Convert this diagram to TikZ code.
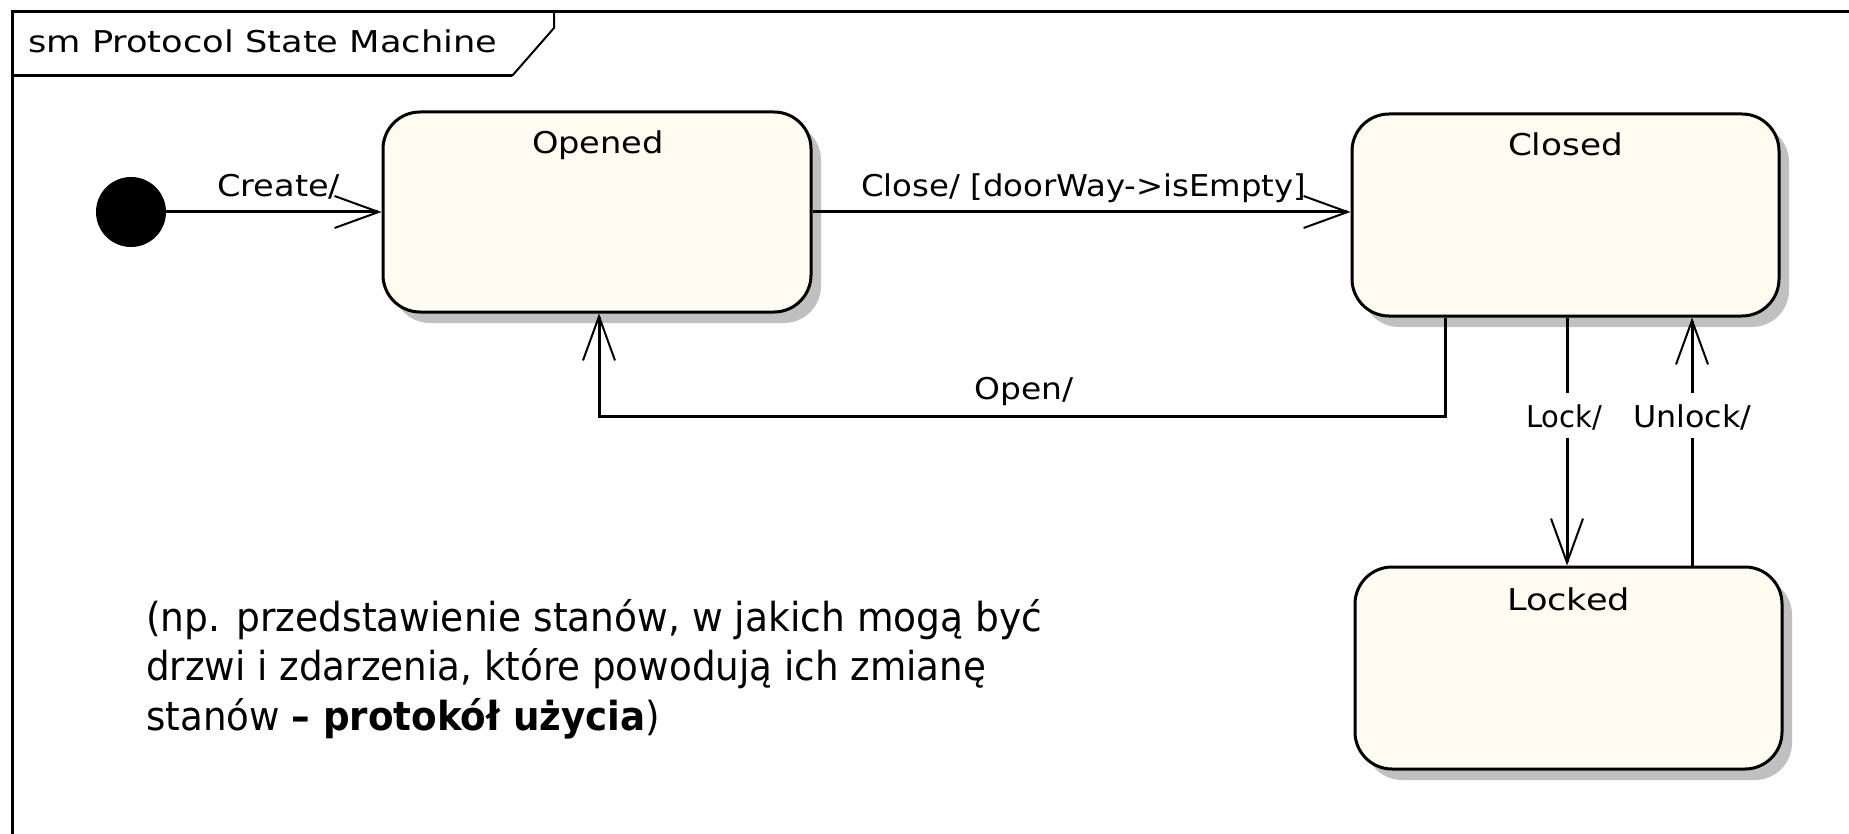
\documentclass[tikz,border=0pt]{standalone}
\usepackage{fontspec}
\usepackage{graphicx}
\setmainfont{DejaVu Sans}
\usetikzlibrary{arrows.meta,shadows}
\definecolor{statefill}{RGB}{255,251,240}
\definecolor{shadowgray}{RGB}{192,192,192}
\newcommand{\fitw}[2]{\resizebox{#1pt}{\height}{#2}}
\begin{document}
\begin{tikzpicture}[x=1pt,y=-1pt,
  lbl/.style={inner sep=0pt, anchor=base west, font=\fontsize{30}{36}\selectfont},
  notetext/.style={inner sep=0pt, anchor=base west, font=\fontsize{40}{49.5}\selectfont},
  state/.style={draw, line width=3pt, fill=statefill, rounded corners=37pt, inner sep=0pt,
    drop shadow={shadow xshift=10pt, shadow yshift=-11pt, fill=shadowgray, opacity=1}},
  trans/.style={line width=3pt, -{Straight Barb[length=44pt,width=32pt,line width=2pt]}},
  framestyle/.style={line width=3pt}
  ]
\useasboundingbox (0,0) rectangle (1849,834);
\fill[white] (0,0) rectangle (1849,834);

% frame and tab
\draw[framestyle] (12,834) -- (12,12) -- (1849,12);
\draw[framestyle] (12,76) -- (512,76);
\draw[line width=2pt] (512,76) -- (554,28) -- (554,12);
\node[lbl] (title) at (28,53) {\fitw{469}{sm Protocol State Machine}};

% states
\node[state, minimum width=428pt, minimum height=200pt] (opened) at (597,212) {};
\node[state, minimum width=427pt, minimum height=202pt] (closed) at (1565.5,215) {};
\node[state, minimum width=427pt, minimum height=202pt] (locked) at (1568.5,668) {};
\node[lbl, anchor=base] (openedname) at (598,154) {\fitw{132}{Opened}};
\node[lbl, anchor=base] (closedname) at (1565.5,156) {\fitw{115}{Closed}};
\node[lbl, anchor=base] (lockedname) at (1568.5,610) {\fitw{123}{Locked}};

% initial state
\node[circle, fill=black, minimum size=70pt, inner sep=0pt] (init) at (131,212) {};

% transitions
\coordinate (retR) at (1445,416);
\coordinate (retL) at (599,416);
\coordinate (lockx) at (1567,416);
\coordinate (unlockx) at (1692,416);
\draw[trans] (init) -- (opened.west);
\draw[trans] (opened.east) -- (closed.west |- opened.east);
\draw[trans] (closed.south -| retR) -- (retR) -- (retL) -- (opened.south -| retL);
\draw[trans] (closed.south -| lockx) -- (locked.north -| lockx);
\draw[trans] (locked.north -| unlockx) -- (closed.south -| unlockx);

% transition labels
\node[lbl] (createlbl) at (217,197) {\fitw{123}{Create/}};
\node[lbl] (closelbl) at (861,197) {\fitw{445}{Close/ [doorWay->isEmpty]}};
\node[lbl] (openlbl) at (974,399) {\fitw{99}{Open/}};
\node[lbl, fill=white, text height=34pt, text depth=11pt] (locklbl) at (1526,427) {\fitw{76}{Lock/}};
\node[lbl, fill=white, text height=34pt, text depth=11pt] (unlocklbl) at (1633,427) {\fitw{118}{Unlock/}};

% note
\node[notetext] (note1) at (146,631) {\fitw{896}{(np. przedstawienie stanów, w jakich mogą być}};
\node[notetext] (note2) at (146,680.5) {\fitw{840}{drzwi i zdarzenia, które powodują ich zmianę}};
\node[notetext] (note3) at (146,730) {\fitw{514}{stanów \textbf{– protokół użycia})}};
\end{tikzpicture}
\end{document}
